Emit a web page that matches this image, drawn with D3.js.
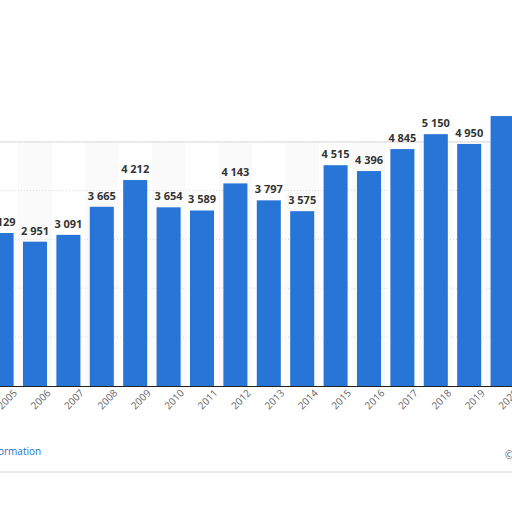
<!DOCTYPE html>
<html lang="en">
<head>
<meta charset="UTF-8">
<script src="https://d3js.org/d3.v7.min.js"></script>
<style>
  body { margin: 0; background: #fff; }
  .lbl { font: bold 11px "Open Sans", sans-serif; fill: #333; }
  .tick text { font: 10px "Open Sans", sans-serif; fill: #666; }
</style>
</head>
<body>
<script>
// Years and values (thousands of units, as shown)
var years = [2005, 2006, 2007, 2008, 2009, 2010, 2011, 2012, 2013, 2014, 2015, 2016, 2017, 2018, 2019, 2020];
var values = [3129, 2951, 3091, 3665, 4212, 3654, 3589, 4143, 3797, 3575, 4515, 4396, 4845, 5150, 4950, 5520];
var gridValues = [1000, 2000, 3000, 4000, 5000];

var W = 512, H = 512, baseY = 386;

var svg = d3.select("body").append("svg").attr("width", W).attr("height", H);

// panel
svg.append("rect")
    .attr("x", -10).attr("y", 142).attr("width", W + 20).attr("height", 330)
    .attr("rx", 6)
    .attr("fill", "#fff").attr("stroke", "#d8d8d8");

var x = d3.scaleBand()
    .domain(years)
    .range([-15.1, -15.1 + 16 * 33.4])
    .paddingInner(0.28).paddingOuter(0.14);

var y = d3.scaleLinear().domain([0, 1000]).range([baseY, baseY - 48.9]);

// alternating column shading
svg.selectAll(".band").data(years.filter(function(d, i) { return i % 2 === 1; }))
    .enter().append("rect")
    .attr("x", function(d) { return x(d) - x.step() * x.paddingInner() / 2; })
    .attr("y", 143).attr("width", x.step()).attr("height", baseY - 143)
    .attr("fill", "#fafafa");

// gridlines
svg.selectAll(".grid").data(gridValues).enter().append("line")
    .attr("x1", 0).attr("x2", W)
    .attr("y1", function(d) { return y(d); }).attr("y2", function(d) { return y(d); })
    .attr("stroke", "#ddd").attr("stroke-dasharray", "1,2");

// bars
svg.selectAll(".bar").data(values).enter().append("rect")
    .attr("x", function(d, i) { return x(years[i]); })
    .attr("y", function(d) { return y(d); })
    .attr("width", x.bandwidth())
    .attr("height", function(d) { return baseY - y(d); })
    .attr("fill", "#2875d8");

// value labels (2020 label is hidden in the reference)
var fmt = function(v) { return d3.format(",")(v).replace(",", " "); };
svg.selectAll(".lbl").data(values.slice(0, 15)).enter().append("text")
    .attr("class", "lbl")
    .attr("x", function(d, i) { return x(years[i]) + x.bandwidth() / 2; })
    .attr("y", function(d) { return y(d) - 7; })
    .attr("text-anchor", "middle")
    .text(fmt);

// x axis
var xAxis = d3.axisBottom(x).tickSize(0).tickPadding(8);
var gx = svg.append("g").attr("transform", "translate(0," + baseY + ")").call(xAxis);
gx.select(".domain").attr("stroke", "#222");
gx.selectAll(".tick text")
    .attr("text-anchor", "end")
    .attr("dx", "0.6em").attr("dy", "0.9em")
    .attr("transform", "rotate(-45)");

svg.append("text").attr("x", -2).attr("y", 455)
    .style("font", "10px 'Open Sans', sans-serif").attr("fill", "#1a73c8")
    .text("Additional Information".slice(14));
svg.append("text").attr("x", 505).attr("y", 459)
    .style("font", "10px 'Open Sans', sans-serif").attr("fill", "#555").text("©");
</script>
</body>
</html>
